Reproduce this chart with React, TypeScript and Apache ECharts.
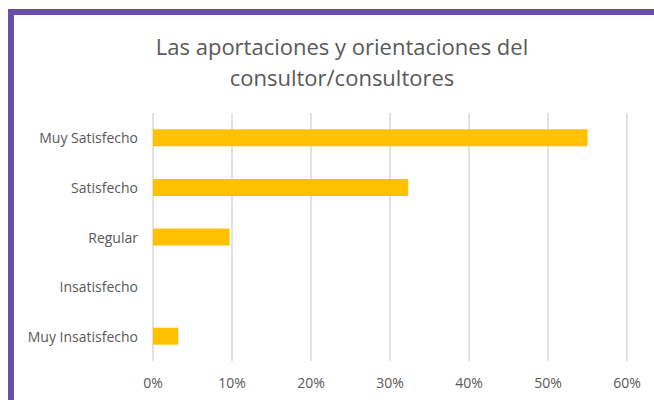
import React, { useEffect, useRef } from "react";
import * as echarts from "echarts";

const categories = ["Muy Satisfecho", "Satisfecho", "Regular", "Insatisfecho", "Muy Insatisfecho"];
const values = [55.0, 32.3, 9.7, 0, 3.2];
const titleText = "Las aportaciones y orientaciones del\nconsultor/consultores";

export default function App() {
  const ref = useRef<HTMLDivElement>(null);
  useEffect(() => {
    const chart = echarts.init(ref.current!, null, { renderer: "svg" });
    chart.setOption({
      animation: false,
      backgroundColor: "#ffffff",
      title: {
        text: titleText,
        left: 337,
        top: 25,
        textAlign: "center",
        textStyle: {
          fontFamily: "Open Sans",
          fontSize: 22,
          fontWeight: "normal",
          color: "#595959",
          lineHeight: 31,
        },
      },
      graphic: [
        { type: "rect", shape: { x: 8, y: 9, width: 646, height: 6 }, style: { fill: "#6a4fa8" } },
        { type: "rect", shape: { x: 8, y: 9, width: 6, height: 391 }, style: { fill: "#6a4fa8" } },
      ],
      grid: { left: 153, right: 27, top: 113, bottom: 39 },
      xAxis: {
        type: "value",
        min: 0,
        max: 60,
        interval: 10,
        axisLine: { show: false },
        axisTick: { show: false },
        splitLine: { lineStyle: { color: "#d9d9d9", width: 1.5 } },
        axisLabel: {
          formatter: "{value}%",
          color: "#595959",
          fontFamily: "Open Sans",
          fontSize: 14,
          margin: 14,
        },
      },
      yAxis: {
        type: "category",
        data: categories,
        inverse: true,
        axisLine: { show: false },
        axisTick: { show: false },
        axisLabel: {
          color: "#595959",
          fontFamily: "Open Sans",
          fontSize: 14,
          margin: 15,
        },
      },
      series: [
        {
          type: "bar",
          data: values,
          barWidth: 17,
          itemStyle: { color: "#FFC000" },
        },
      ],
    });
    return () => chart.dispose();
  }, []);
  return (
    <div
      ref={ref}
      style={{ position: "absolute", left: 0, top: 0, width: 654, height: 400 }}
    />
  );
}
